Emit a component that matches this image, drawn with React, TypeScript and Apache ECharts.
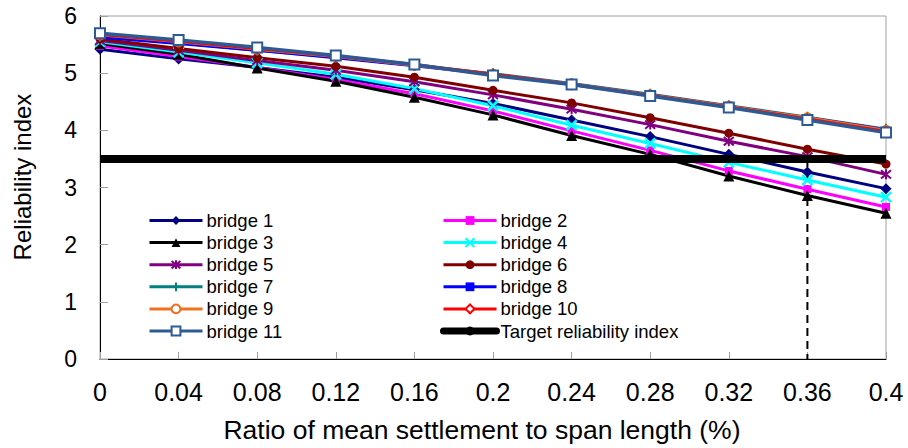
import React, { useEffect, useRef } from "react";
import * as echarts from "echarts";

const xValues = [0, 0.04, 0.08, 0.12, 0.16, 0.2, 0.24, 0.28, 0.32, 0.36, 0.4];
const yTicks = [0, 1, 2, 3, 4, 5, 6];

const bridge1 = [5.42, 5.25, 5.1, 4.93, 4.71, 4.47, 4.18, 3.89, 3.58, 3.27, 2.98];
const bridge2 = [5.48, 5.29, 5.1, 4.89, 4.64, 4.34, 3.99, 3.65, 3.29, 2.97, 2.66];
const bridge3 = [5.52, 5.33, 5.09, 4.86, 4.58, 4.27, 3.91, 3.58, 3.2, 2.86, 2.55];
const bridge4 = [5.55, 5.37, 5.18, 4.98, 4.73, 4.43, 4.09, 3.77, 3.44, 3.13, 2.83];
const bridge5 = [5.57, 5.4, 5.22, 5.05, 4.85, 4.62, 4.37, 4.1, 3.81, 3.54, 3.23];
const bridge6 = [5.6, 5.43, 5.27, 5.12, 4.93, 4.7, 4.48, 4.22, 3.95, 3.67, 3.41];
const bridge7 = [5.65, 5.53, 5.4, 5.28, 5.14, 4.99, 4.82, 4.63, 4.43, 4.23, 4.02];
const bridge8 = [5.63, 5.52, 5.4, 5.27, 5.13, 4.98, 4.81, 4.62, 4.42, 4.22, 4.01];
const bridge9 = [5.67, 5.55, 5.42, 5.29, 5.14, 4.98, 4.81, 4.62, 4.42, 4.22, 4.0];
const bridge10 = [5.68, 5.56, 5.43, 5.3, 5.15, 4.98, 4.8, 4.61, 4.41, 4.2, 3.98];
const bridge11 = [5.7, 5.58, 5.45, 5.31, 5.15, 4.96, 4.8, 4.6, 4.4, 4.18, 3.96];

const targetIndex = 3.5;
const dropLineX = 0.36;

const FONT = "'Liberation Sans', Arial, sans-serif";

type BridgeDef = {
  name: string;
  values: number[];
  color: string;
  symbol: string;
  size: number | number[];
  stroke?: number;
  width?: number;
};

const bridges: BridgeDef[] = [
  { name: "bridge 1", values: bridge1, color: "#000080", symbol: "diamond", size: 11 },
  { name: "bridge 2", values: bridge2, color: "#FF00FF", symbol: "rect", size: 8 },
  { name: "bridge 3", values: bridge3, color: "#000000", symbol: "triangle", size: 11 },
  { name: "bridge 4", values: bridge4, color: "#00FFFF", symbol: "path://M0,0L10,10M10,0L0,10", size: 10, stroke: 2.5 },
  { name: "bridge 5", values: bridge5, color: "#800080", symbol: "path://M0,0L10,10M10,0L0,10M5,-1L5,11", size: 10, stroke: 2 },
  { name: "bridge 6", values: bridge6, color: "#800000", symbol: "circle", size: 9 },
  { name: "bridge 7", values: bridge7, color: "#008080", symbol: "path://M5,0L5,10M0,5L10,5", size: 11, stroke: 2 },
  { name: "bridge 8", values: bridge8, color: "#0000FF", symbol: "rect", size: [9, 3] },
  { name: "bridge 9", values: bridge9, color: "#F07020", symbol: "emptyCircle", size: 9, stroke: 2 },
  { name: "bridge 10", values: bridge10, color: "#FF0000", symbol: "emptyDiamond", size: 9, stroke: 2 },
  { name: "bridge 11", values: bridge11, color: "#2E5A94", symbol: "emptyRect", size: 10, stroke: 2, width: 3.5 },
];

export default function App() {
  const ref = useRef<HTMLDivElement>(null);

  useEffect(() => {
    if (!ref.current) return;
    const chart = echarts.init(ref.current, undefined, { renderer: "svg" });

    const lineSeries: any[] = bridges.map((b) => ({
      name: b.name,
      type: "line",
      data: xValues.map((x, i) => [x, b.values[i]]),
      symbol: b.symbol,
      symbolSize: b.size,
      showAllSymbol: true,
      color: b.color,
      lineStyle: { color: b.color, width: b.width ?? 3 },
      itemStyle: b.stroke
        ? { color: b.color, borderColor: b.color, borderWidth: b.stroke }
        : { color: b.color },
      emphasis: { disabled: true },
      z: 3,
    }));

    lineSeries.push({
      name: "drop",
      type: "line",
      data: [
        [dropLineX, targetIndex],
        [dropLineX, 0],
      ],
      symbol: "none",
      lineStyle: { color: "#000", width: 2, type: [8, 5] },
      emphasis: { disabled: true },
      z: 2,
    });

    lineSeries.push({
      name: "Target reliability index",
      type: "line",
      data: [
        [xValues[0], targetIndex],
        [xValues[xValues.length - 1], targetIndex],
      ],
      symbol: "none",
      color: "#000",
      lineStyle: { color: "#000", width: 8 },
      emphasis: { disabled: true },
      z: 4,
    });

    const legendBase = {
      orient: "vertical",
      top: 206,
      itemWidth: 53,
      itemHeight: 11,
      itemGap: 3.1,
      selectedMode: false,
      lineStyle: { width: 3 },
      textStyle: { fontSize: 18.5, fontFamily: FONT, color: "#000", padding: [0, 0, 0, -1] },
    };

    chart.setOption({
      animation: false,
      backgroundColor: "#fff",
      grid: {
        left: 100,
        right: 22,
        top: 16,
        bottom: 89,
        show: true,
        borderColor: "#a0a0a0",
        borderWidth: 1,
        backgroundColor: "transparent",
      },
      legend: [
        {
          ...legendBase,
          left: 143,
          data: ["bridge 1", "bridge 3", "bridge 5", "bridge 7", "bridge 9", "bridge 11"],
        },
        {
          ...legendBase,
          left: 435,
          data: [
            "bridge 2",
            "bridge 4",
            "bridge 6",
            "bridge 8",
            "bridge 10",
            { name: "Target reliability index", lineStyle: { width: 7, cap: "round" } },
          ],
        },
      ],
      xAxis: {
        type: "value",
        min: xValues[0],
        max: xValues[xValues.length - 1],
        interval: 0.04,
        axisLine: { lineStyle: { color: "#000", width: 1 } },
        axisTick: { inside: true, length: 7, lineStyle: { color: "#a0a0a0" } },
        splitLine: { show: false },
        axisLabel: {
          margin: 20,
          fontSize: 25,
          fontFamily: FONT,
          color: "#000",
          formatter: (v: number) => String(Math.round(v * 100) / 100),
        },
      },
      yAxis: {
        type: "value",
        min: yTicks[0],
        max: yTicks[yTicks.length - 1],
        interval: 1,
        axisLine: { show: true, lineStyle: { color: "#000", width: 1 } },
        axisTick: { show: true, inside: true, length: 8, lineStyle: { color: "#a0a0a0" } },
        splitLine: { show: false },
        axisLabel: { margin: 23, fontSize: 23, fontFamily: FONT, color: "#000" },
      },
      graphic: [
        {
          type: "text",
          x: 22,
          y: 177,
          rotation: Math.PI / 2,
          style: {
            text: "Reliability index",
            fontSize: 24,
            fontFamily: FONT,
            fill: "#000",
            align: "center",
            verticalAlign: "middle",
          },
        },
        {
          type: "text",
          x: 482,
          y: 430,
          style: {
            text: "Ratio of mean settlement to span length (%)",
            fontSize: 26.5,
            fontFamily: FONT,
            fill: "#000",
            align: "center",
            verticalAlign: "middle",
          },
        },
      ],
      series: lineSeries,
    });

    return () => chart.dispose();
  }, []);

  return <div ref={ref} style={{ width: 908, height: 448, position: "absolute", left: 0, top: 0 }} />;
}
